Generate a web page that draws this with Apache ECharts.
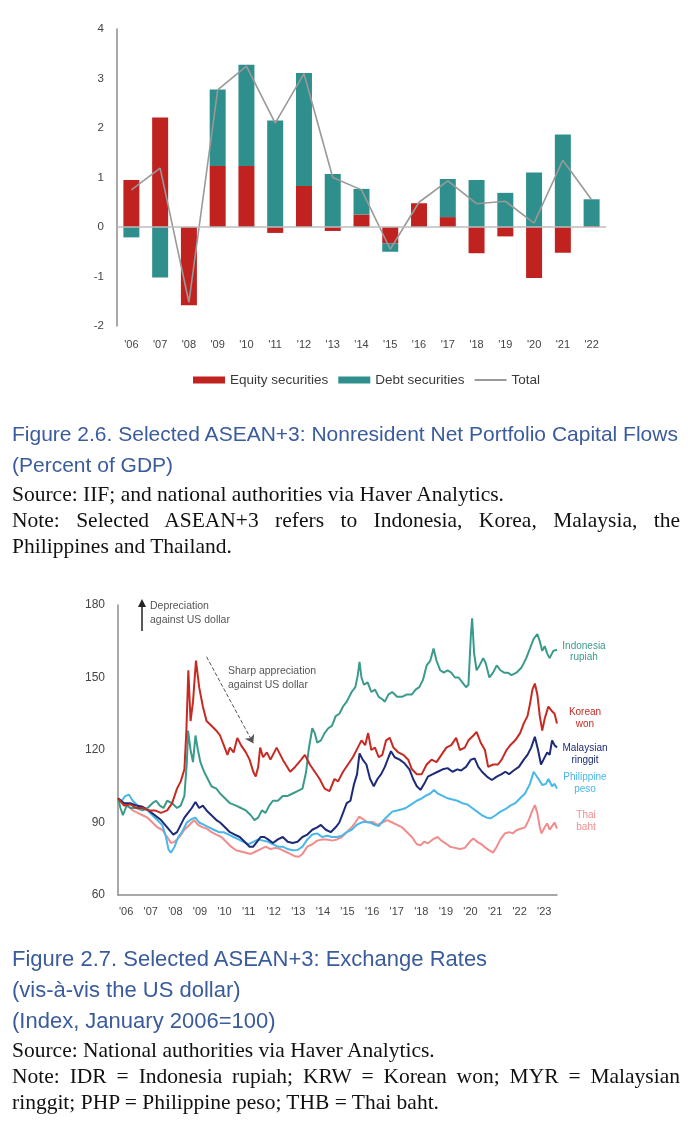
<!DOCTYPE html>
<html>
<head>
<meta charset="utf-8">
<script src="https://cdn.jsdelivr.net/npm/echarts@6/dist/echarts.min.js"></script>
<style>
  body { margin: 0; background: #fff; }
  #page { position: relative; width: 698px; height: 1132px; overflow: hidden; }
  #chart { position: absolute; left: 0; top: 0; width: 698px; height: 1132px; }
  .cap { position: absolute; left: 12px; font-family: "Liberation Sans", Arial, sans-serif; font-size: 21px; line-height: 31px; color: #3a5b9c; white-space: nowrap; }
  .src { position: absolute; left: 12px; width: 668px; font-family: "Liberation Serif", "Times New Roman", serif; font-size: 21.5px; line-height: 26px; color: #111; }
  .src div { white-space: nowrap; }
  .src .j { text-align: justify; text-align-last: justify; white-space: normal; }
</style>
</head>
<body>
<div id="page">
  <div id="chart"></div>
  <div class="cap" style="top:418px">Figure 2.6. Selected ASEAN+3: Nonresident Net Portfolio Capital Flows<br>(Percent of GDP)</div>
  <div class="src" style="top:481px">
    <div>Source: IIF; and national authorities via Haver Analytics.</div>
    <div class="j">Note: Selected ASEAN+3 refers to Indonesia, Korea, Malaysia, the</div>
    <div>Philippines and Thailand.</div>
  </div>
  <div class="cap" style="top:943px; font-size:22px">Figure 2.7. Selected ASEAN+3: Exchange Rates<br>(vis-à-vis the US dollar)<br>(Index, January 2006=100)</div>
  <div class="src" style="top:1037px">
    <div>Source: National authorities via Haver Analytics.</div>
    <div class="j">Note: IDR = Indonesia rupiah; KRW = Korean won; MYR = Malaysian</div>
    <div>ringgit; PHP = Philippine peso; THB = Thai baht.</div>
  </div>
</div>

<script>
// Figure 2.6 - portfolio flows, percent of GDP
var years = ["'06", "'07", "'08", "'09", "'10", "'11", "'12", "'13", "'14", "'15", "'16", "'17", "'18", "'19", "'20", "'21", "'22"];
var equity = [0.95, 2.21, -1.58, 1.23, 1.23, -0.12, 0.83, -0.08, 0.25, -0.33, 0.48, 0.2, -0.53, -0.19, -1.03, -0.52, 0.02];
var debt = [-0.21, -1.02, 0, 1.55, 2.05, 2.15, 2.28, 1.07, 0.52, -0.17, 0, 0.77, 0.95, 0.69, 1.1, 1.87, 0.54];
var total = [0.75, 1.19, -1.52, 2.77, 3.25, 2.1, 3.1, 1.0, 0.75, -0.45, 0.5, 0.93, 0.47, 0.52, 0.08, 1.35, 0.55];

// Figure 2.7 - exchange rates, index Jan 2006 = 100, [year, value]
var krw = [[2006.0,100],[2006.25,97],[2006.5,97.5],[2006.75,96],[2007.0,96],[2007.25,95],[2007.5,95],[2007.75,94],[2008.0,95],[2008.2,98],[2008.4,104],[2008.55,107],[2008.7,112],[2008.78,128],[2008.86,153],[2008.95,132],[2009.05,140],[2009.17,157],[2009.3,146],[2009.45,138],[2009.6,132],[2009.8,130],[2010.0,128],[2010.15,126],[2010.3,122],[2010.45,118],[2010.55,121],[2010.7,119],[2010.85,125],[2011.0,122],[2011.2,119],[2011.35,116],[2011.5,111],[2011.6,109],[2011.7,113],[2011.78,121],[2011.9,117],[2012.05,119],[2012.2,116],[2012.45,121],[2012.7,116],[2013.0,111],[2013.2,113],[2013.45,116],[2013.6,118],[2013.8,114],[2014.0,111],[2014.2,108],[2014.4,104],[2014.6,103],[2014.8,108],[2014.95,107],[2015.15,111],[2015.35,114],[2015.55,117],[2015.75,121],[2015.9,124],[2016.05,122],[2016.17,127],[2016.3,120],[2016.45,121],[2016.6,117],[2016.75,118],[2016.9,124],[2017.05,125],[2017.2,121],[2017.4,119],[2017.6,118],[2017.8,116],[2017.95,112],[2018.15,110],[2018.35,110],[2018.55,114],[2018.75,116],[2018.95,115],[2019.15,118],[2019.35,121],[2019.55,122],[2019.75,125],[2019.9,120],[2020.1,121],[2020.25,124],[2020.45,126],[2020.58,127.5],[2020.75,123],[2020.92,120],[2021.05,113],[2021.25,114],[2021.45,114],[2021.6,116],[2021.8,120],[2021.95,122],[2022.15,124],[2022.35,127],[2022.5,131],[2022.65,134],[2022.75,139],[2022.85,145],[2022.95,147.5],[2023.05,143],[2023.15,134],[2023.25,128],[2023.35,133],[2023.5,138],[2023.65,136],[2023.75,135],[2023.85,131]];
var idr = [[2006.0,100],[2006.1,96],[2006.2,93],[2006.35,97],[2006.5,96],[2006.75,96],[2007.0,95],[2007.2,96],[2007.4,98],[2007.55,99],[2007.7,97],[2007.85,96],[2008.0,99],[2008.2,98],[2008.4,96],[2008.55,97],[2008.7,101],[2008.8,115],[2008.85,128],[2008.95,120],[2009.05,115],[2009.15,126],[2009.25,120],[2009.35,115],[2009.5,111],[2009.65,108],[2009.8,105],[2010.0,104],[2010.15,102],[2010.35,100],[2010.55,98],[2010.8,97],[2011.0,96],[2011.2,95],[2011.4,93],[2011.55,91],[2011.7,92],[2011.85,95],[2012.0,94],[2012.15,97],[2012.3,99],[2012.5,99],[2012.7,101],[2012.9,101],[2013.1,102],[2013.3,103],[2013.5,104],[2013.65,111],[2013.75,120],[2013.9,129],[2014.0,127],[2014.1,123],[2014.25,124],[2014.4,127],[2014.55,129],[2014.7,130],[2014.85,134],[2015.0,135],[2015.15,138],[2015.3,140],[2015.5,144],[2015.65,146],[2015.75,151],[2015.82,156.5],[2015.9,150],[2016.0,147],[2016.15,148],[2016.3,144],[2016.45,145],[2016.6,142],[2016.75,141],[2016.85,140],[2017.0,143],[2017.15,144],[2017.35,142],[2017.55,142],[2017.75,143],[2017.95,143],[2018.1,145],[2018.25,146],[2018.4,149],[2018.55,155],[2018.7,157],[2018.83,162],[2018.95,157],[2019.1,153],[2019.25,152],[2019.4,153],[2019.55,152],[2019.7,150],[2019.85,150],[2020.0,148],[2020.15,146],[2020.25,147],[2020.35,168],[2020.4,174.5],[2020.48,160],[2020.58,153],[2020.7,155],[2020.85,158],[2020.95,156],[2021.1,150],[2021.25,152],[2021.4,155],[2021.55,153],[2021.7,152],[2021.85,152],[2022.0,151],[2022.2,152],[2022.4,154],[2022.6,158],[2022.75,162],[2022.9,166],[2023.05,168],[2023.15,165],[2023.25,161],[2023.35,163],[2023.45,160],[2023.55,158],[2023.7,161],[2023.85,161.5]];
var myr = [[2006.0,100],[2006.25,98],[2006.5,98],[2006.75,97],[2007.0,96.5],[2007.25,95],[2007.5,93],[2007.75,91],[2008.0,88],[2008.25,85],[2008.4,86],[2008.55,89],[2008.7,92],[2008.85,94],[2009.0,96],[2009.15,98.5],[2009.3,96],[2009.45,97],[2009.6,95],[2009.8,93],[2010.0,91],[2010.15,90],[2010.35,88],[2010.55,86],[2010.75,85],[2010.95,84],[2011.15,82],[2011.35,80],[2011.5,80],[2011.65,82],[2011.8,84],[2011.95,84],[2012.1,83],[2012.3,81.5],[2012.5,83],[2012.7,84],[2012.9,82],[2013.1,81.5],[2013.3,82],[2013.5,84],[2013.7,85],[2013.9,87],[2014.1,88],[2014.25,89],[2014.45,87],[2014.65,86],[2014.85,88],[2015.0,90],[2015.15,94],[2015.3,98],[2015.45,99],[2015.6,106],[2015.72,110],[2015.82,118.6],[2015.95,116],[2016.1,114],[2016.25,108],[2016.4,105],[2016.55,108],[2016.7,110],[2016.85,113],[2017.0,117],[2017.1,119.5],[2017.25,117],[2017.45,116],[2017.65,114.5],[2017.85,112],[2018.0,108],[2018.15,105],[2018.3,103.5],[2018.45,106],[2018.6,109],[2018.8,110],[2019.0,111],[2019.2,112],[2019.4,112.5],[2019.6,111],[2019.8,112],[2019.95,111.5],[2020.15,113],[2020.35,116],[2020.5,116.5],[2020.65,113],[2020.8,111],[2021.0,109],[2021.2,107.6],[2021.4,109],[2021.6,110],[2021.75,111],[2021.9,110],[2022.1,111.6],[2022.3,113],[2022.5,116],[2022.65,118],[2022.8,121],[2022.95,125.5],[2023.08,120],[2023.2,114],[2023.3,116],[2023.45,119],[2023.55,118],[2023.65,124],[2023.75,122],[2023.85,121]];
var php = [[2006.0,100],[2006.15,99],[2006.3,101],[2006.45,101.5],[2006.6,99],[2006.8,97],[2007.0,96],[2007.2,95],[2007.4,93],[2007.6,91],[2007.8,89],[2007.95,84],[2008.05,79],[2008.15,77.5],[2008.3,80],[2008.45,84],[2008.6,86],[2008.8,90],[2009.0,91.5],[2009.15,92],[2009.3,90],[2009.5,89],[2009.7,88],[2009.9,87],[2010.1,86],[2010.3,86],[2010.5,85],[2010.7,84],[2010.9,83],[2011.1,82],[2011.3,81],[2011.5,82],[2011.7,83],[2011.9,82.5],[2012.1,82],[2012.3,81],[2012.5,80],[2012.7,80],[2012.9,79],[2013.1,78.5],[2013.3,78.6],[2013.5,80],[2013.7,83],[2013.9,85],[2014.1,85.5],[2014.3,84],[2014.5,84.5],[2014.7,84],[2014.9,84],[2015.1,84.5],[2015.3,86],[2015.5,87],[2015.7,89],[2015.9,90],[2016.05,90.3],[2016.25,90],[2016.45,89],[2016.6,88.5],[2016.8,91],[2017.0,93],[2017.15,94.5],[2017.35,95],[2017.55,95.5],[2017.7,96],[2017.85,97],[2018.0,98],[2018.15,99],[2018.35,100],[2018.5,101],[2018.7,102],[2018.85,103.5],[2019.0,102],[2019.2,101],[2019.4,100],[2019.6,99.5],[2019.8,99],[2020.0,98],[2020.2,97.5],[2020.4,96],[2020.6,94.5],[2020.8,93],[2021.0,92],[2021.15,91.7],[2021.35,93],[2021.55,94.5],[2021.75,95.5],[2021.95,97],[2022.15,98],[2022.35,100],[2022.55,102],[2022.75,106],[2022.9,111],[2022.97,111.7],[2023.1,108],[2023.25,105.5],[2023.4,106],[2023.5,108],[2023.65,105],[2023.75,106],[2023.85,104]];
var thb = [[2006.0,100],[2006.2,98],[2006.4,97],[2006.6,95],[2006.8,94],[2007.0,93],[2007.2,92],[2007.4,90],[2007.6,88],[2007.8,87],[2008.0,84],[2008.15,81.5],[2008.3,82],[2008.5,84],[2008.7,87],[2008.9,89],[2009.1,91],[2009.25,89],[2009.45,88],[2009.6,87.5],[2009.8,86],[2010.0,85],[2010.2,84],[2010.4,82],[2010.6,80],[2010.8,78.5],[2011.0,78],[2011.2,77.5],[2011.4,77],[2011.6,78],[2011.8,79],[2012.0,80],[2012.2,79],[2012.4,79.5],[2012.6,79],[2012.8,78],[2013.0,77],[2013.2,76],[2013.35,75.8],[2013.5,77],[2013.7,80],[2013.9,81],[2014.1,82.5],[2014.3,83],[2014.5,83],[2014.7,82.5],[2014.9,83],[2015.1,84],[2015.3,86],[2015.5,88],[2015.65,90],[2015.8,92.4],[2015.95,91.5],[2016.15,90],[2016.35,90.3],[2016.55,89],[2016.75,90],[2016.95,91],[2017.15,90],[2017.35,89],[2017.55,88],[2017.75,86],[2017.95,84],[2018.15,81],[2018.3,80.6],[2018.45,82],[2018.6,81.4],[2018.8,83],[2019.0,84],[2019.15,82.5],[2019.3,81.5],[2019.5,80],[2019.7,79.5],[2019.9,79],[2020.1,79.5],[2020.3,82],[2020.45,83.4],[2020.6,82],[2020.78,81],[2020.95,79.5],[2021.1,78.5],[2021.25,77.5],[2021.4,80],[2021.55,83],[2021.73,85.5],[2021.9,86],[2022.05,85.5],[2022.2,86.8],[2022.4,87.5],[2022.55,88],[2022.7,91],[2022.85,95],[2022.95,97.2],[2023.05,94],[2023.15,88],[2023.22,85.5],[2023.35,88],[2023.45,89.6],[2023.55,87],[2023.65,88.5],[2023.75,90],[2023.85,87.5]];

var red = '#c0231f', teal = '#2f8f8c';
var axisGrey = '#8c8c8c', labelCol = '#444';

var chart = echarts.init(document.getElementById('chart'));

function fxLine(name, data, color, z) {
  return {
    name: name, type: 'line', xAxisIndex: 1, yAxisIndex: 1, data: data,
    showSymbol: false, symbol: 'none', z: z,
    lineStyle: { color: color, width: 2 }
  };
}

var korea = fxLine('Korean won', krw, '#c62a22', 6);
korea.markLine = {
  silent: true, symbol: ['none', 'arrow'], symbolSize: 8,
  label: { show: false },
  lineStyle: { color: '#555', type: 'dashed', width: 1 },
  data: [[{ coord: [2009.6, 158.6] }, { coord: [2011.5, 122.8] }]]
};

var option = {
  animation: false,
  textStyle: { fontFamily: 'Liberation Sans, Arial, sans-serif' },
  grid: [
    { left: 117, top: 29, width: 489, height: 297 },
    { left: 118, top: 605, width: 439, height: 290 }
  ],
  legend: {
    left: 188, top: 368, itemWidth: 32, itemHeight: 7, itemGap: 10,
    textStyle: { fontSize: 13.5, color: '#3a3a3a' },
    data: [
      { name: 'Equity securities', icon: 'rect' },
      { name: 'Debt securities', icon: 'rect' },
      { name: 'Total', icon: 'path://M0 0H30V2H0Z' }
    ]
  },
  xAxis: [
    {
      gridIndex: 0, type: 'category', data: years,
      axisLine: { show: false }, axisTick: { show: false },
      axisLabel: { color: labelCol, fontSize: 11, margin: 13 }
    },
    {
      gridIndex: 1, type: 'value', min: 2006, max: 2023.85, interval: 1,
      splitLine: { show: false }, axisTick: { show: false },
      axisLine: { lineStyle: { color: axisGrey, width: 1.5 } },
      axisLabel: {
        color: labelCol, fontSize: 11, margin: 11, align: 'left', padding: [0, 0, 0, 1],
        showMaxLabel: false,
        formatter: function (v) { return Number.isInteger(v) ? "'" + String(v).slice(2) : ''; }
      }
    }
  ],
  yAxis: [
    {
      gridIndex: 0, type: 'value', min: -2, max: 4, interval: 1,
      splitLine: { show: false }, axisTick: { show: false },
      axisLine: { show: true, lineStyle: { color: axisGrey, width: 1.5 } },
      axisLabel: { color: labelCol, fontSize: 11.5, margin: 13 }
    },
    {
      gridIndex: 1, type: 'value', min: 60, max: 180, interval: 30,
      splitLine: { show: false }, axisTick: { show: false },
      axisLine: { show: true, lineStyle: { color: axisGrey, width: 1.5 } },
      axisLabel: { color: labelCol, fontSize: 12, margin: 13 }
    }
  ],
  series: [
    {
      name: 'Equity securities', type: 'bar', stack: 'flows', barWidth: 16,
      data: equity, itemStyle: { color: red }, z: 2,
      markLine: {
        silent: true, symbol: 'none', label: { show: false },
        lineStyle: { color: '#bdbdbd', type: 'solid', width: 1.5 },
        data: [{ yAxis: 0 }]
      }
    },
    {
      name: 'Debt securities', type: 'bar', stack: 'flows', barWidth: 16,
      data: debt, itemStyle: { color: teal }, z: 2
    },
    {
      name: 'Total', type: 'line', data: total, symbol: 'none', z: 4,
      lineStyle: { color: '#999', width: 1.6 }, itemStyle: { color: '#999' }
    },
    fxLine('Thai baht', thb, '#f28c8c', 3),
    fxLine('Philippine peso', php, '#48b7ea', 3),
    fxLine('Malaysian ringgit', myr, '#1c2a78', 4),
    fxLine('Indonesia rupiah', idr, '#3a9a8c', 5),
    korea
  ],
  graphic: [
    // "Depreciation" arrow and note
    { type: 'line', shape: { x1: 142, y1: 631, x2: 142, y2: 606 }, style: { stroke: '#222', lineWidth: 1.5 } },
    { type: 'polygon', shape: { points: [[138, 607], [146, 607], [142, 599]] }, style: { fill: '#222' } },
    { type: 'text', left: 150, top: 599, style: { text: 'Depreciation\nagainst US dollar', fill: '#555', font: '10.5px Liberation Sans', lineHeight: 14 } },
    { type: 'text', left: 228, top: 664, style: { text: 'Sharp appreciation\nagainst US dollar', fill: '#555', font: '10.5px Liberation Sans', lineHeight: 14 } },
    // series labels on the right
    { type: 'text', x: 584, y: 641, style: { text: 'Indonesia\nrupiah', fill: '#3a9a8c', font: '10px Liberation Sans', lineHeight: 11, align: 'center' } },
    { type: 'text', x: 585, y: 706, style: { text: 'Korean\nwon', fill: '#c62a22', font: '10px Liberation Sans', lineHeight: 12, align: 'center' } },
    { type: 'text', x: 585, y: 742, style: { text: 'Malaysian\nringgit', fill: '#1c2a78', font: '10px Liberation Sans', lineHeight: 12, align: 'center' } },
    { type: 'text', x: 585, y: 771, style: { text: 'Philippine\npeso', fill: '#48b7ea', font: '10px Liberation Sans', lineHeight: 12, align: 'center' } },
    { type: 'text', x: 586, y: 809, style: { text: 'Thai\nbaht', fill: '#f28c8c', font: '10px Liberation Sans', lineHeight: 12, align: 'center' } }
  ]
};

chart.setOption(option);
</script>
</body>
</html>
